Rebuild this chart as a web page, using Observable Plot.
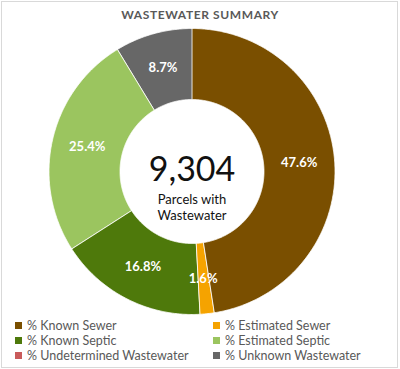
<!DOCTYPE html>
<html><head><meta charset="utf-8">
<script src="https://cdn.jsdelivr.net/npm/d3@7"></script>
<script src="https://cdn.jsdelivr.net/npm/@observablehq/plot@0.6"></script>
<style>
html,body{margin:0;padding:0;background:#fff;}
#chart{position:relative;width:400px;height:369px;overflow:hidden;font-family:Lato,sans-serif;background:#fff;}
#frame{position:absolute;left:1px;top:1px;width:395px;height:365px;border:1px solid #d9d9d9;}
#title{position:absolute;left:0;top:8px;width:400px;text-align:center;font-weight:bold;font-size:12px;line-height:14px;letter-spacing:0.6px;color:#595959;}
#plot{position:absolute;left:0;top:21px;}
#legend{position:absolute;left:15px;top:318px;}
#legend .lg-swatches{display:flex;flex-wrap:wrap;width:396px;min-height:0;margin:0;font-family:Lato,sans-serif;font-size:12.5px;color:#595959;}
#legend .lg-swatch{width:198px;height:15px;margin:0;display:inline-flex;align-items:center;white-space:nowrap;}
#legend .lg-swatch > svg{margin-right:5px;}
</style></head><body>
<div id="chart"><div id="frame"></div><div id="title"></div><div id="plot"></div><div id="legend"></div></div>
<script>
const title = "WASTEWATER SUMMARY";
const categories = ["% Known Sewer", "% Estimated Sewer", "% Known Septic", "% Estimated Septic", "% Undetermined Wastewater", "% Unknown Wastewater"];
const values = [47.6, 1.6, 16.8, 25.4, 0, 8.7];
const colors = ["#7a4f00", "#f5a300", "#4e790b", "#9bc55f", "#c95b5b", "#676767"];
const totalParcels = 9304;
const centerLabel = "Parcels with\nWastewater";

const innerRatio = 72 / 143;
const total = d3.sum(values);
const points = [];
const labels = [];
let cum = 0;
values.forEach((v, i) => {
  const a0 = cum / total * 2 * Math.PI;
  cum += v;
  const a1 = cum / total * 2 * Math.PI;
  if (v <= 0) return;
  const n = Math.max(2, Math.ceil((a1 - a0) / (Math.PI / 360)));
  for (let k = 0; k <= n; k++) {
    const a = a0 + (a1 - a0) * k / n;
    points.push({cat: categories[i], x: Math.sin(a), y: Math.cos(a)});
  }
  for (let k = n; k >= 0; k--) {
    const a = a0 + (a1 - a0) * k / n;
    points.push({cat: categories[i], x: innerRatio * Math.sin(a), y: innerRatio * Math.cos(a)});
  }
  const am = (a0 + a1) / 2, rl = (1 + innerRatio) / 2;
  labels.push({text: v.toFixed(1) + "%", x: rl * Math.sin(am), y: rl * Math.cos(am)});
});

document.getElementById("title").textContent = title;

const color = {domain: categories, range: colors};

const plot = Plot.plot({
  width: 400, height: 300,
  marginLeft: 48.5, marginRight: 65.5, marginTop: 7, marginBottom: 7,
  x: {domain: [-1, 1], axis: null},
  y: {domain: [-1, 1], axis: null},
  color,
  style: {fontFamily: "Lato, sans-serif", background: "transparent", overflow: "visible"},
  marks: [
    Plot.line(points, {x: "x", y: "y", z: "cat", fill: "cat", stroke: "white", strokeWidth: 0.8, curve: "linear-closed"}),
    Plot.text(labels, {x: "x", y: "y", text: "text", fill: "white", fontWeight: "bold", fontSize: 13}),
    Plot.text([totalParcels], {frameAnchor: "middle", text: d => d3.format(",")(d), fontSize: 34, fill: "#111", dy: -1}),
    Plot.text([centerLabel], {frameAnchor: "middle", text: d => d, fontSize: 13, fill: "#111", lineAnchor: "top", lineHeight: 1.25, dy: 21})
  ]
});
document.getElementById("plot").appendChild(plot);

const legend = Plot.legend({legend: "swatches", color, swatchSize: 7, className: "lg"});
document.getElementById("legend").appendChild(legend);
</script>
</body></html>
